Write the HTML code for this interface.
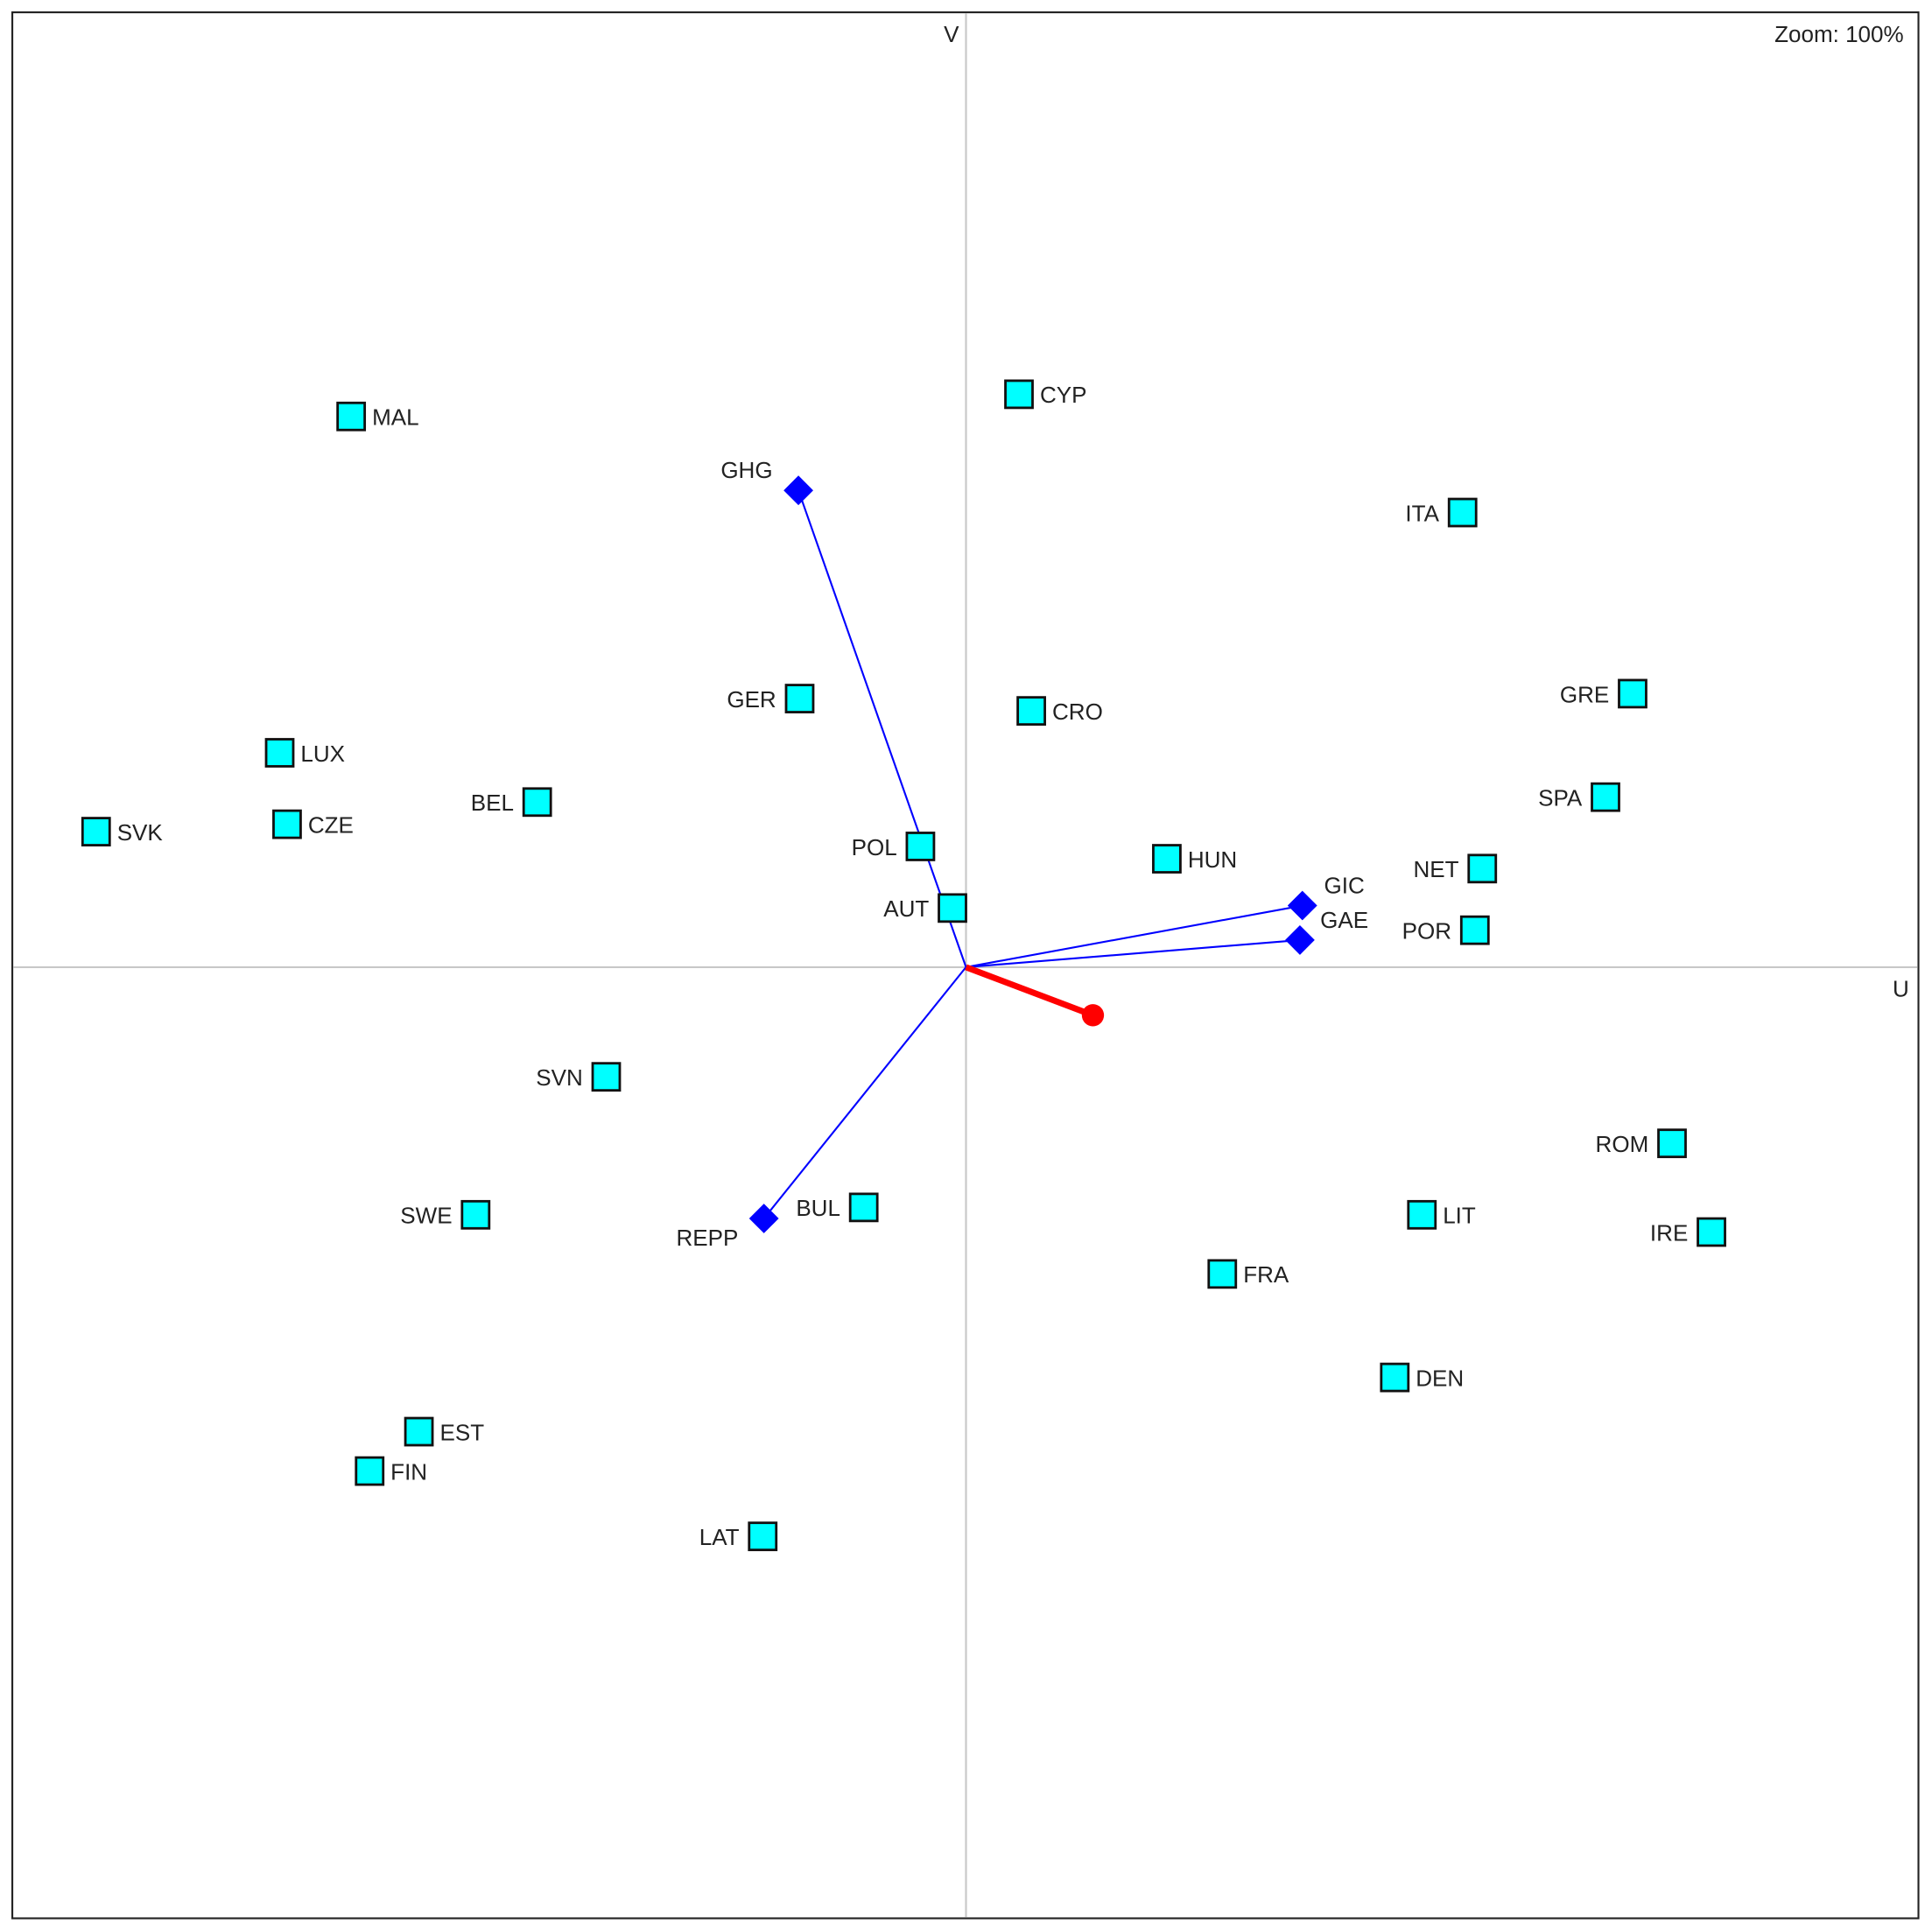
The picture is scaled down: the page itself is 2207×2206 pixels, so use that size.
<!DOCTYPE html>
<html><head><meta charset="utf-8"><style>
html,body{margin:0;padding:0;background:#fff;}
svg{display:block;}
text{font-family:"Liberation Sans","DejaVu Sans",sans-serif;font-size:18.5px;fill:#222;}
.b{fill:#00ffff;stroke:#111;stroke-width:2;}
.d{fill:#0000ff;}
</style></head><body>
<svg width="2207" height="2206" viewBox="0 0 1568 1567.3" preserveAspectRatio="none" xmlns="http://www.w3.org/2000/svg">
<rect x="10" y="10" width="1547" height="1547" fill="#fff" stroke="#222" stroke-width="1.5"/>
<line x1="784" y1="11" x2="784" y2="1556" stroke="#c8c8c8" stroke-width="1.5"/>
<line x1="11" y1="785" x2="1556" y2="785" stroke="#c8c8c8" stroke-width="1.5"/>
<text x="766" y="34">V</text>
<text x="1536" y="809">U</text>
<text x="1545" y="34" text-anchor="end">Zoom: 100%</text>
<g stroke="#0000ff" stroke-width="1.5" fill="none">
<line x1="784" y1="785" x2="648" y2="398"/>
<line x1="784" y1="785" x2="1057" y2="735"/>
<line x1="784" y1="785" x2="1055" y2="763"/>
<line x1="784" y1="785" x2="620" y2="989"/>
</g>
<line x1="784" y1="785" x2="887" y2="824" stroke="#ff0000" stroke-width="5"/>
<circle cx="887" cy="824" r="9" fill="#ff0000"/>
<g class="d">
<polygon points="648,386 660,398 648,410 636,398"/>
<polygon points="1057,723 1069,735 1057,747 1045,735"/>
<polygon points="1055,751 1067,763 1055,775 1043,763"/>
<polygon points="620,977 632,989 620,1001 608,989"/>
</g>
<text x="606" y="388" text-anchor="middle">GHG</text>
<text x="1091" y="725" text-anchor="middle">GIC</text>
<text x="1091" y="753" text-anchor="middle">GAE</text>
<text x="574" y="1011" text-anchor="middle">REPP</text>
<g>
<rect class="b" x="274" y="327" width="22" height="22"/><text x="302" y="345">MAL</text>
<rect class="b" x="816" y="309" width="22" height="22"/><text x="844" y="327">CYP</text>
<rect class="b" x="1176" y="405" width="22" height="22"/><text x="1168" y="423" text-anchor="end">ITA</text>
<rect class="b" x="638" y="556" width="22" height="22"/><text x="630" y="574" text-anchor="end">GER</text>
<rect class="b" x="826" y="566" width="22" height="22"/><text x="854" y="584">CRO</text>
<rect class="b" x="1314" y="552" width="22" height="22"/><text x="1306" y="570" text-anchor="end">GRE</text>
<rect class="b" x="216" y="600" width="22" height="22"/><text x="244" y="618">LUX</text>
<rect class="b" x="425" y="640" width="22" height="22"/><text x="417" y="658" text-anchor="end">BEL</text>
<rect class="b" x="1292" y="636" width="22" height="22"/><text x="1284" y="654" text-anchor="end">SPA</text>
<rect class="b" x="67" y="664" width="22" height="22"/><text x="95" y="682">SVK</text>
<rect class="b" x="222" y="658" width="22" height="22"/><text x="250" y="676">CZE</text>
<rect class="b" x="736" y="676" width="22" height="22"/><text x="728" y="694" text-anchor="end">POL</text>
<rect class="b" x="936" y="686" width="22" height="22"/><text x="964" y="704">HUN</text>
<rect class="b" x="1192" y="694" width="22" height="22"/><text x="1184" y="712" text-anchor="end">NET</text>
<rect class="b" x="762" y="726" width="22" height="22"/><text x="754" y="744" text-anchor="end">AUT</text>
<rect class="b" x="1186" y="744" width="22" height="22"/><text x="1178" y="762" text-anchor="end">POR</text>
<rect class="b" x="481" y="863" width="22" height="22"/><text x="473" y="881" text-anchor="end">SVN</text>
<rect class="b" x="1346" y="917" width="22" height="22"/><text x="1338" y="935" text-anchor="end">ROM</text>
<rect class="b" x="375" y="975" width="22" height="22"/><text x="367" y="993" text-anchor="end">SWE</text>
<rect class="b" x="690" y="969" width="22" height="22"/><text x="682" y="987" text-anchor="end">BUL</text>
<rect class="b" x="1143" y="975" width="22" height="22"/><text x="1171" y="993">LIT</text>
<rect class="b" x="1378" y="989" width="22" height="22"/><text x="1370" y="1007" text-anchor="end">IRE</text>
<rect class="b" x="981" y="1023" width="22" height="22"/><text x="1009" y="1041">FRA</text>
<rect class="b" x="1121" y="1107" width="22" height="22"/><text x="1149" y="1125">DEN</text>
<rect class="b" x="329" y="1151" width="22" height="22"/><text x="357" y="1169">EST</text>
<rect class="b" x="289" y="1183" width="22" height="22"/><text x="317" y="1201">FIN</text>
<rect class="b" x="608" y="1236" width="22" height="22"/><text x="600" y="1254" text-anchor="end">LAT</text>
</g>
</svg>
</body></html>
